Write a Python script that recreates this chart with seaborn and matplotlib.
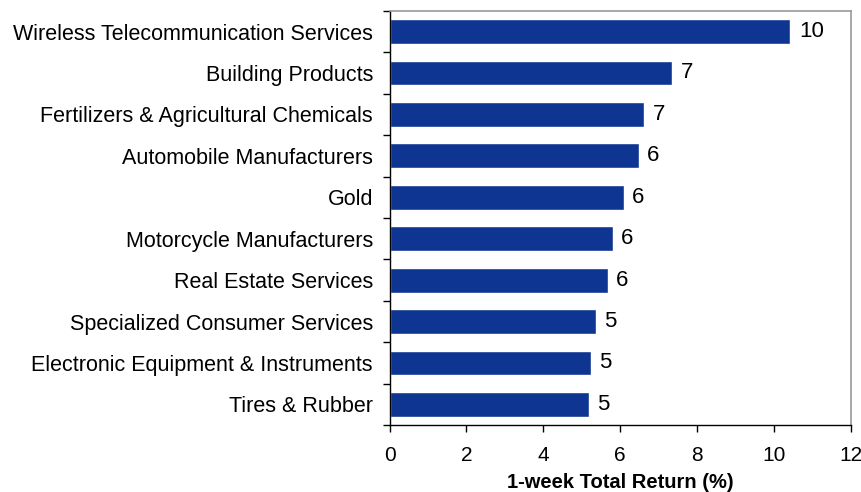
import matplotlib
matplotlib.use("Agg")
import matplotlib.pyplot as plt
import seaborn as sns
import pandas as pd

# industries and 1-week total return (%)
industries = [
    "Wireless Telecommunication Services",
    "Building Products",
    "Fertilizers & Agricultural Chemicals",
    "Automobile Manufacturers",
    "Gold",
    "Motorcycle Manufacturers",
    "Real Estate Services",
    "Specialized Consumer Services",
    "Electronic Equipment & Instruments",
    "Tires & Rubber",
]
returns = [10.43, 7.36, 6.63, 6.48, 6.09, 5.81, 5.67, 5.37, 5.24, 5.19]
x_ticks = [0, 2, 4, 6, 8, 10, 12]

df = pd.DataFrame({"Industry": industries, "Return": returns})

sns.set_style("white")
plt.rcParams['font.family'] = ['Liberation Sans', 'DejaVu Sans']
plt.rcParams['text.color'] = 'black'
plt.rcParams['axes.labelcolor'] = 'black'
plt.rcParams['xtick.color'] = 'black'
plt.rcParams['ytick.color'] = 'black'

fig = plt.figure(figsize=(8.62, 4.92), dpi=100)
ax = fig.add_axes([0.452, 0.136, 0.535, 0.842])

sns.barplot(data=df, x="Return", y="Industry", color="#0E3591", saturation=1,
            width=0.6, ax=ax, orient="h")

for i, v in enumerate(returns):
    ax.text(v + 0.22, i, f"{round(v):d}", va="center", ha="left", fontsize=16, color="black")

ax.set_xlim(0, 12)
ax.set_ylim(len(industries) - 0.5, -0.5)
ax.set_xticks(x_ticks)
ax.set_xticklabels([str(t) for t in x_ticks], fontsize=15)
ax.set_xlabel("1-week Total Return (%)", fontsize=14.5, fontweight="bold", labelpad=6)
ax.set_ylabel("")
ax.tick_params(axis="y", which="major", labelsize=15.5, length=0, pad=12, left=False)
ax.tick_params(axis="x", bottom=True, length=5, width=1, color="black", direction="out", pad=10)

# category-boundary tick marks on the y axis (Excel style)
ax.set_yticks([i - 0.5 for i in range(len(industries) + 1)], minor=True)
ax.tick_params(axis="y", which="minor", left=True, length=5, width=1, color="black", direction="out")

for side in ["top", "right"]:
    ax.spines[side].set_color("#999999")
    ax.spines[side].set_linewidth(1.2)
for side in ["left", "bottom"]:
    ax.spines[side].set_color("black")
    ax.spines[side].set_linewidth(1)

plt.savefig("out.png", dpi=100)
